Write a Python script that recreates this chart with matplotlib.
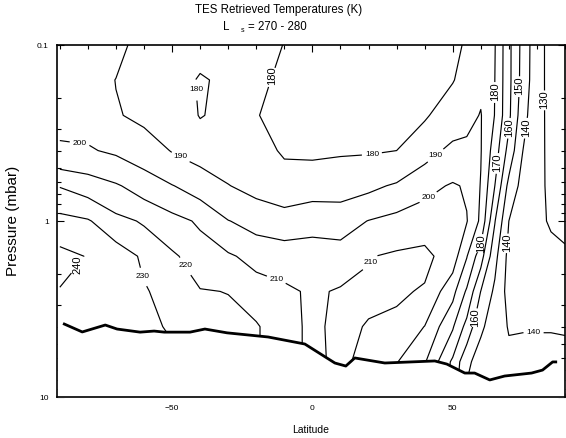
import numpy as np
import matplotlib
matplotlib.use("Agg")
import matplotlib.pyplot as plt
from matplotlib.ticker import FixedLocator, FixedFormatter, NullFormatter

plt.rcParams['font.family'] = ['Liberation Sans', 'DejaVu Sans']

# ---------------- data ----------------
latitudes = [-90, -80, -70, -60, -50, -40, -30, -20, -10, 0, 10, 20, 30, 40,
             50, 55, 60, 65, 70, 75, 80, 85, 90]
pressures = [0.1, 0.158, 0.251, 0.398, 0.631, 1.0, 1.585, 2.512, 3.981, 6.31, 10.0]

# temperature (K) along each pressure level, one value per latitude
t_p0100 = [195, 194, 193, 186, 184.5, 183.5, 183, 181.5, 179.9, 177, 176.5, 177, 177.5, 178.5,
           179, 180.5, 186, 180.5, 162.5, 146.5, 133.5, 127, 126]
t_p0158 = [196, 195, 189.8, 186.5, 185, 179, 182, 181, 179, 176, 176, 176.5, 177, 178,
           179.6, 182.8, 188, 180, 162.5, 146, 133.5, 127, 126]
t_p0251 = [197, 197, 190.7, 188, 186.5, 179.5, 182.5, 180.2, 178.5, 176, 176.5, 177, 177.5, 179,
           184.8, 187.1, 190.5, 179.7, 162, 143.5, 133, 127.5, 126.5]
t_p0398 = [201.5, 200.8, 198.6, 194.8, 189.5, 186.2, 185.5, 183, 179, 178.3, 179, 179.2, 180, 186.4,
           192.4, 192.4, 190.5, 175.2, 156.3, 140, 132.5, 128, 127]
t_p0631 = [219.5, 215.6, 211.1, 205.6, 200.4, 195.6, 190.3, 187, 184, 185.7, 186.2, 187.9, 191.2, 197.1,
           201, 199, 189.5, 170, 146.8, 136.5, 132, 128.5, 127.5]
t_p1000 = [233.6, 231, 223, 218.9, 213.6, 208.5, 200.3, 196.6, 194.7, 196.7, 195.5, 200.3, 203.5, 205.5,
           204, 200.5, 188, 160.5, 140, 134, 131.5, 129.3, 128.5]
t_p1585 = [243, 239.5, 236, 228.2, 221.6, 215.2, 211.4, 206.6, 205.3, 204.9, 204.8, 209.5, 211.5, 212.5,
           205, 190.5, 174, 153, 137, 133, 133, 132, 131]
t_p2512 = [239.5, 238, 234, 231, 225.8, 220.5, 219.8, 215.2, 212, 208.5, 211, 212, 211.5, 209,
           193, 178.5, 159.8, 148, 136.5, 134, 136, 136, 135.5]
t_p3981 = [237, 236, 234, 231, 229.5, 222, 222.5, 221, 213.5, 208, 212.5, 209.3, 207.5, 199.8,
           181, 166.5, 151.4, 146, 139.2, 139.5, 139.5, 139.5, 139.2]
t_p6310 = [236, 235, 234, 231, 231, 222, 222.5, 221, 213.5, 208, 212, 207, 200.5, 191,
           168, 152, 146, 145, 143, 143, 143, 143, 143]
t_p10000 = [236, 235, 234, 231, 231, 222, 222.5, 221, 213.5, 208, 212, 207, 200, 190,
            165, 148, 146, 145, 143, 143, 143, 143, 143]

contour_levels = [130, 140, 150, 160, 170, 180, 190, 200, 210, 220, 230, 240]

# surface pressure (thick line)
surface_lat = [-88.4, -82.0, -73.8, -69.6, -61.4, -56.4, -52.8, -43.6, -38.3, -30.4, -15.8, -2.7,
               8.0, 11.9, 15.1, 25.8, 43.6, 47.9, 54.3, 57.8, 63.2, 68.5, 78.1, 82.0, 85.6, 86.7]
surface_p = [3.85, 4.27, 3.90, 4.11, 4.28, 4.22, 4.28, 4.28, 4.11, 4.32, 4.56, 5.00,
             6.41, 6.67, 6.00, 6.41, 6.24, 6.50, 7.31, 7.31, 8.00, 7.60, 7.31, 7.03, 6.32, 6.32]

title_text = "TES Retrieved Temperatures (K)"
season_symbol = "L"
season_subscript = "s"
season_range = "= 270 - 280"

# ---------------- figure ----------------
fig = plt.figure(figsize=(5.66, 4.38), dpi=100)
ax = fig.add_axes([57 / 566, 1 - 397 / 438, 508 / 566, 352 / 438])

temps = np.array([t_p0100, t_p0158, t_p0251, t_p0398, t_p0631, t_p1000,
                  t_p1585, t_p2512, t_p3981, t_p6310, t_p10000])
LAT, P = np.meshgrid(latitudes, pressures)
cs = ax.contour(LAT, P, temps, levels=contour_levels, colors='black',
                linewidths=0.85, zorder=2)

xlim = (-91, 90)
ax.set_yscale('log')
ax.set_xlim(*xlim)
ax.set_ylim(10, 0.1)

# blank out below the surface, then draw the surface line
fill_lat = np.r_[xlim[0], surface_lat, xlim[1]]
fill_p = np.r_[surface_p[0], surface_p, surface_p[-1]]
ax.fill_between(fill_lat, fill_p, 20, color='white', zorder=2.5, linewidth=0)
ax.plot(surface_lat, surface_p, color='black', lw=2.0, zorder=3)

# label placement: (lat, pressure, vertical?)
label_spots = [(-43.6, 0.18, False), (-12.6, 0.154, True), (21.5, 0.45, False),
               (-83.1, 0.38, False), (-48.2, 0.474, False), (44.7, 0.44, False),
               (40.7, 0.71, False), (66, 0.185, True), (73.5, 0.17, True),
               (83.1, 0.205, True), (70.3, 0.296, True), (76.7, 0.296, True),
               (66, 0.468, True), (-82, 1.85, True), (-60.7, 2.08, False),
               (-43.6, 1.73, False), (-11.6, 1.90, False), (18.7, 1.62, False),
               (59.6, 1.33, True), (69.2, 1.33, True), (58.9, 3.55, True),
               (78.8, 4.06, False)]
texts = ax.clabel(cs, manual=[(a, b) for a, b, _ in label_spots], inline=True,
                  inline_spacing=3, fontsize=6, fmt='%d')
for t, (_, _, vert) in zip(texts, label_spots):
    if vert:
        t.set_rotation(90)
        t.set_fontsize(8)
    else:
        t.set_rotation(0)
        t.set_fontsize(6)

# ticks
ax.xaxis.set_major_locator(FixedLocator([-50, 0, 50]))
ax.xaxis.set_minor_locator(FixedLocator([-90, -80, -70, -60, -40, -30, -20, -10,
                                         10, 20, 30, 40, 60, 70, 80, 90]))
ax.yaxis.set_major_locator(FixedLocator([0.1, 1, 10]))
ax.yaxis.set_major_formatter(FixedFormatter(['0.1', '1', '10']))
ax.yaxis.set_minor_locator(FixedLocator([m * d for d in (0.1, 1) for m in range(2, 10)]))
ax.yaxis.set_minor_formatter(NullFormatter())
ax.tick_params(which='both', direction='in', top=True, right=True, labelsize=6,
               width=0.8, colors='black')
ax.tick_params(which='major', length=5, pad=6)
ax.tick_params(which='minor', length=3)
for s in ax.spines.values():
    s.set_linewidth(1.2)

ax.set_xlabel('Latitude', fontsize=7.5, labelpad=9)
ax.set_ylabel('Pressure (mbar)', fontsize=11, labelpad=12)

fig.text(279 / 566, 1 - 10 / 438, title_text, ha='center', va='center', fontsize=8.3)
fig.text(226 / 566, 1 - 27 / 438, season_symbol, ha='center', va='center', fontsize=8.3)
fig.text(243 / 566, 1 - 30 / 438, season_subscript, ha='center', va='center', fontsize=5)
fig.text(248 / 566, 1 - 27 / 438, season_range, ha='left', va='center', fontsize=8.3)

fig.savefig('out.png', dpi=100)
